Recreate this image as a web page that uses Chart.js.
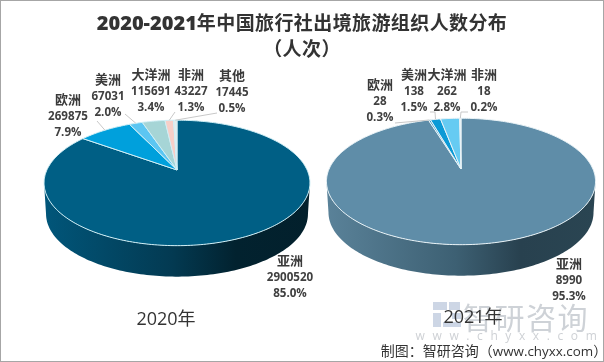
<!DOCTYPE html>
<html><head><meta charset="utf-8">
<script src="https://cdn.jsdelivr.net/npm/chart.js@4"></script>
<style>
html,body{margin:0;padding:0;background:#fff}
#page{position:relative;width:604px;height:362px;overflow:hidden;background:#fff;font-family:"Noto Sans CJK SC","Noto Sans",sans-serif;color:#404040}
#frame{position:absolute;inset:0;border:1px solid #a6a6a6;border-left-width:1.5px;pointer-events:none;box-sizing:border-box;z-index:9}
canvas{position:absolute;left:0;top:0}
.t{position:absolute;white-space:nowrap;transform:translate(-50%,-50%);line-height:1}
.title{font-weight:700;font-size:19px;color:#333;letter-spacing:.4px}
.title b{font-family:"Open Sans","Noto Sans",sans-serif;font-size:20px;letter-spacing:0}
.name{font-weight:700;font-size:13px;color:#3a3a3a}
.num{font-weight:700;font-size:11.6px;font-family:"Open Sans","Noto Sans",sans-serif;color:#404040}
.year{font-size:18px;color:#333;font-family:"Open Sans","Noto Sans CJK SC",sans-serif}
.wm{color:#ced2d7;font-size:30px;letter-spacing:1.6px;font-weight:400}
.wm2{color:#ced1d5;font-size:12px;letter-spacing:7.6px;font-family:"Open Sans",sans-serif}
.foot{font-size:14px;color:#333;font-family:"Noto Sans CJK SC",sans-serif}
.foot span{font-family:"Open Sans",sans-serif;font-size:13.4px}
.logo{position:absolute;background:#cdd6e5}
</style></head><body>
<div id="page">
<canvas id="c2020" width="604" height="362"></canvas>
<canvas id="c2021" width="604" height="362"></canvas>
<div id="frame"></div>
</div>
<script>
const categories2020 = ['亚洲','欧洲','美洲','大洋洲','非洲','其他'];
const values2020 = [2900520,269875,67031,115691,43227,17445];
const percents2020 = ['85.0%','7.9%','2.0%','3.4%','1.3%','0.5%'];
const categories2021 = ['亚洲','欧洲','美洲','大洋洲','非洲'];
const values2021 = [8990,28,138,262,18];
const percents2021 = ['95.3%','0.3%','1.5%','2.8%','0.2%'];
const colors2020 = ['#005f85','#00a0dc','#5cc6f2','#a6d5d6','#f6cfc8','#e6ecec'];
const colors2021 = ['#5f8da8','#3f9bc6','#0b9ad6','#66cbf2','#eef4f6'];

const pie2020 = {cx:177,apex:170,b:130.6,a:60.3,k:0.206,depth:31,edge:'#cfeef5',
  wall:['#01567a','#033a52','#02222f','#03202c'],
  labelX:[290,68,108,151,191,232],labelY:[259,98,78,73,73,74],
  leaders:[null,[[97,121]],[[125,114]],null,[[175,112]],[[217,113]]]};
const pie2021 = {cx:461,apex:169,b:132.4,a:61,k:0.197,depth:31,edge:'#e8f2f6',
  wall:['#5a8299','#3d6073','#28414f','#2a4552'],
  labelX:[569,380,414,447,484],labelY:[262,83,73,73,73],
  leaders:[null,[[395,123]],[[430,112],[435,112]],null,[[468,112],[461,112]]]};

function project(p,arc,theta,dy,sx){
  const u=Math.cos(theta),v=Math.sin(theta),w=1-p.k*v,r=arc.outerRadius;
  return [arc.x+(sx||1)*r*u/w, arc.y+(p.a/p.b)*r*v/w+(dy||0)];
}
function trace(ctx,p,arc,from,to,dy,sx,first){
  const n=Math.max(2,Math.ceil(Math.abs(to-from)/0.02));
  for(let i=0;i<=n;i++){
    const q=project(p,arc,from+(to-from)*i/n,dy,sx);
    (i===0&&first)?ctx.moveTo(q[0],q[1]):ctx.lineTo(q[0],q[1]);
  }
}
const perspectivePie={
  id:'perspectivePie',
  beforeDatasetDraw(chart,args,opts){
    const p=opts.geom,ctx=chart.ctx,arcs=args.meta.data,base=arcs[0];
    const t0=Math.asin(p.k),t1=Math.PI-t0;
    const left=base.x-p.b/Math.sqrt(1-p.k*p.k),right=base.x+p.b/Math.sqrt(1-p.k*p.k);
    const g=ctx.createLinearGradient(left,0,right,0);
    [0,.48,.72,1].forEach((s,i)=>g.addColorStop(s,p.wall[i]));
    ctx.save();
    ctx.beginPath();
    trace(ctx,p,base,t0,t1,0,1,true);
    trace(ctx,p,base,t1,t0,p.depth,0.985,false);
    ctx.closePath();ctx.fillStyle=g;ctx.fill();
    arcs.forEach(arc=>{
      ctx.beginPath();
      ctx.moveTo(arc.x,arc.y);
      trace(ctx,p,arc,arc.startAngle,arc.endAngle,0,1,false);
      ctx.closePath();
      ctx.fillStyle=arc.options.backgroundColor;ctx.fill();
      ctx.lineWidth=arc.options.borderWidth;ctx.strokeStyle=arc.options.borderColor;
      ctx.lineJoin='round';ctx.stroke();
    });
    ctx.strokeStyle='#c8c8c8';ctx.lineWidth=1;
    p.leaders.forEach((l,i)=>{
      if(!l)return;
      const e=project(p,arcs[i],(arcs[i].startAngle+arcs[i].endAngle)/2,0,1);
      ctx.beginPath();ctx.moveTo(l[0][0],l[0][1]);
      l.slice(1).forEach(q=>ctx.lineTo(q[0],q[1]));
      ctx.lineTo(e[0],e[1]);ctx.stroke();
    });
    ctx.restore();
    return false;
  }
};
function makePie(id,cats,vals,cols,p){
  return new Chart(document.getElementById(id),{
    type:'pie',
    plugins:[perspectivePie],
    data:{labels:cats,datasets:[{data:vals,backgroundColor:cols,borderColor:p.edge,borderWidth:1,clip:false}]},
    options:{responsive:false,animation:false,devicePixelRatio:1,
      layout:{padding:{left:p.cx-p.b,right:604-p.cx-p.b,top:p.apex-p.b,bottom:362-p.apex-p.b}},
      plugins:{legend:{display:false},tooltip:{enabled:false},title:{display:false},perspectivePie:{geom:p}}}
  });
}
makePie('c2020',categories2020,values2020,colors2020,pie2020);
makePie('c2021',categories2021,values2021,colors2021,pie2021);

const page=document.getElementById('page');
function text(cls,x,y,html){
  const d=document.createElement('div');d.className='t '+cls;d.style.left=x+'px';d.style.top=y+'px';d.innerHTML=html;page.appendChild(d);return d;
}
function labels(cats,vals,pcts,p){
  cats.forEach((c,i)=>{
    const x=p.labelX[i],y=p.labelY[i];
    text('name',x,y,c);
    text('num',x,y+18,String(vals[i]));
    text('num',x,y+34,pcts[i]);
  });
}
[[433,302,14,8],[449,302,11,8],[433,313,8,14],[443,322,18,5],[452,313,9,6]].forEach(r=>{
  const d=document.createElement('div');d.className='logo';
  d.style.left=r[0]+'px';d.style.top=r[1]+'px';d.style.width=r[2]+'px';d.style.height=r[3]+'px';page.appendChild(d);
});
text('wm',526,316,'智研咨询');
text('wm2',510,336,'www.chyxx.com');
text('title',302,22,'<b>2020-2021</b>年中国旅行社出境旅游组织人数分布');
text('title',302,47,'（人次）');
labels(categories2020,values2020,percents2020,pie2020);
labels(categories2021,values2021,percents2021,pie2021);
text('year',166,318,'2020年');
text('year',473,316,'2021年');
text('foot',494,351,'制图：智研咨询（<span>www.chyxx.com</span>）');
</script>
</body></html>
